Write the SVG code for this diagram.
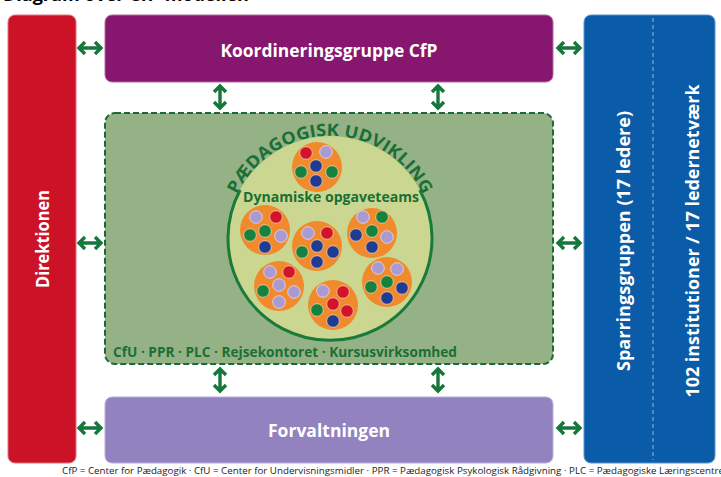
<svg xmlns="http://www.w3.org/2000/svg" xmlns:xlink="http://www.w3.org/1999/xlink" width="721" height="477" viewBox="0 0 721 477">
<style>
  text { font-family: "Open Sans", "Liberation Sans", sans-serif; font-weight: bold; }
  .w { fill: #ffffff; }
  .g { fill: #1a6f35; }
  .arr { fill: none; stroke: #16773a; stroke-width: 3.4; stroke-linecap: butt; }
  .team { fill: #f08a2c; }
  .s { stroke: #f7cfb0; stroke-width: 0.8; }
  .r { fill: #d2142b; }
  .l { fill: #a99bd1; stroke: #e6dcf2; stroke-width: 0.8; }
  .n { fill: #1f3c92; }
  .gr { fill: #15823d; }
</style>
<defs>
  <path id="ha" class="arr" d="M-11,0 H11 M-5,-6 L-11,0 L-5,6 M5,-6 L11,0 L5,6"/>
  <path id="va" class="arr" d="M0,-11 V11 M-6,-5 L0,-11 L6,-5 M-6,5 L0,11 L6,5"/>
  <path id="arcText" d="M235.6,197.6 A103,103 0 0 1 424.4,197.6"/>
</defs>
<rect width="721" height="477" fill="#ffffff"/>
<text x="3" y="1" font-size="18" fill="#000000">Diagram over CfP-modellen</text>

<g id="direktionen">
  <rect x="8" y="15" width="68" height="448" rx="7" fill="#cc1226" stroke="#e8707c" stroke-width="1"/>
  <text class="w" font-size="18" text-anchor="middle" textLength="98" lengthAdjust="spacingAndGlyphs" transform="translate(49,239) rotate(-90)">Direktionen</text>
</g>

<g id="koordineringsgruppe">
  <rect x="105" y="15" width="448" height="67" rx="7" fill="#86166e" stroke="#b06aa3" stroke-width="1"/>
  <text class="w" x="329" y="57" font-size="18.5" text-anchor="middle" textLength="217" lengthAdjust="spacingAndGlyphs">Koordineringsgruppe CfP</text>
</g>

<g id="paedagogisk-udvikling">
  <rect x="105" y="113" width="448" height="251" rx="10" fill="#94b285" stroke="#1a6b35" stroke-width="2" stroke-dasharray="6,3"/>
  <circle cx="330" cy="238" r="102" fill="#cbd690"/>
  <path d="M240.2,190 A102,102 0 1 0 419.8,190" fill="none" stroke="#1a7a3a" stroke-width="3"/>
  <text class="g" font-size="17"><textPath xlink:href="#arcText" startOffset="50%" text-anchor="middle" textLength="232" lengthAdjust="spacingAndGlyphs">PÆDAGOGISK UDVIKLING</textPath></text>
  <text class="g" x="331" y="202" font-size="14.5" text-anchor="middle" textLength="176" lengthAdjust="spacingAndGlyphs">Dynamiske opgaveteams</text>
  <text class="g" x="113" y="357" font-size="15" textLength="344" lengthAdjust="spacingAndGlyphs">CfU · PPR · PLC · Rejsekontoret · Kursusvirksomhed</text>
</g>

<g id="team-1">
  <circle class="team" cx="317" cy="167" r="25"/>
  <circle class="r s" cx="306" cy="153" r="6.3"/>
  <circle class="l" cx="326" cy="152" r="6.3"/>
  <circle class="n s" cx="316" cy="166" r="6.3"/>
  <circle class="gr s" cx="301" cy="172" r="6.3"/>
  <circle class="gr s" cx="332" cy="172" r="6.3"/>
  <circle class="n s" cx="316" cy="181" r="6.3"/>
</g>
<g id="team-2">
  <circle class="team" cx="265" cy="230" r="25"/>
  <circle class="l" cx="256" cy="217" r="6.3"/>
  <circle class="r s" cx="276" cy="217" r="6.3"/>
  <circle class="gr s" cx="250" cy="235" r="6.3"/>
  <circle class="gr s" cx="265" cy="231" r="6.3"/>
  <circle class="l" cx="281" cy="236" r="6.3"/>
  <circle class="n s" cx="265" cy="247" r="6.3"/>
</g>
<g id="team-3">
  <circle class="team" cx="317" cy="246" r="25"/>
  <circle class="l" cx="308" cy="233" r="6.3"/>
  <circle class="r s" cx="327" cy="233" r="6.3"/>
  <circle class="n s" cx="317" cy="246" r="6.3"/>
  <circle class="n s" cx="333" cy="252" r="6.3"/>
  <circle class="gr s" cx="302" cy="252" r="6.3"/>
  <circle class="n s" cx="317" cy="262" r="6.3"/>
</g>
<g id="team-4">
  <circle class="team" cx="372" cy="233" r="25"/>
  <circle class="l" cx="363" cy="217" r="6.3"/>
  <circle class="gr s" cx="382" cy="217" r="6.3"/>
  <circle class="n s" cx="356" cy="235" r="6.3"/>
  <circle class="gr s" cx="372" cy="231" r="6.3"/>
  <circle class="l" cx="387" cy="237" r="6.3"/>
  <circle class="n s" cx="372" cy="247" r="6.3"/>
</g>
<g id="team-5">
  <circle class="team" cx="279" cy="286" r="25"/>
  <circle class="l" cx="270" cy="272" r="6.3"/>
  <circle class="r s" cx="289" cy="272" r="6.3"/>
  <circle class="l" cx="279" cy="285" r="6.3"/>
  <circle class="gr s" cx="263" cy="291" r="6.3"/>
  <circle class="l" cx="294" cy="292" r="6.3"/>
  <circle class="l" cx="279" cy="302" r="6.3"/>
</g>
<g id="team-6">
  <circle class="team" cx="333" cy="305" r="25"/>
  <circle class="l" cx="323" cy="291" r="6.3"/>
  <circle class="r s" cx="343" cy="292" r="6.3"/>
  <circle class="r s" cx="333" cy="304" r="6.3"/>
  <circle class="gr s" cx="317" cy="310" r="6.3"/>
  <circle class="r s" cx="347" cy="311" r="6.3"/>
  <circle class="n s" cx="333" cy="321" r="6.3"/>
</g>
<g id="team-7">
  <circle class="team" cx="387" cy="282" r="25"/>
  <circle class="l" cx="378" cy="268" r="6.3"/>
  <circle class="l" cx="397" cy="269" r="6.3"/>
  <circle class="gr s" cx="387" cy="282" r="6.3"/>
  <circle class="gr s" cx="371" cy="287" r="6.3"/>
  <circle class="n s" cx="402" cy="288" r="6.3"/>
  <circle class="n s" cx="387" cy="298" r="6.3"/>
</g>

<g id="forvaltningen">
  <rect x="105" y="397" width="448" height="66" rx="7" fill="#9283c0" stroke="#b9aedb" stroke-width="1"/>
  <text class="w" x="329" y="437" font-size="18.5" text-anchor="middle" textLength="122" lengthAdjust="spacingAndGlyphs">Forvaltningen</text>
</g>

<g id="sparringsgruppen">
  <rect x="584" y="15" width="131" height="448" rx="7" fill="#0b5ca8" stroke="#5b93cc" stroke-width="1"/>
  <line x1="653" y1="18" x2="653" y2="460" stroke="#7fa9d6" stroke-width="1.2" stroke-dasharray="4,3"/>
  <text class="w" font-size="18" text-anchor="middle" textLength="260" lengthAdjust="spacingAndGlyphs" transform="translate(630,241) rotate(-90)">Sparringsgruppen (17 ledere)</text>
  <text class="w" font-size="18" text-anchor="middle" textLength="313" lengthAdjust="spacingAndGlyphs" transform="translate(699,241) rotate(-90)">102 institutioner / 17 ledernetværk</text>
</g>

<g id="connectors">
  <use xlink:href="#ha" x="90" y="48"/>
  <use xlink:href="#ha" x="90" y="243"/>
  <use xlink:href="#ha" x="90" y="428"/>
  <use xlink:href="#ha" x="569" y="48"/>
  <use xlink:href="#ha" x="569" y="243"/>
  <use xlink:href="#ha" x="569" y="428"/>
  <use xlink:href="#va" x="220" y="97"/>
  <use xlink:href="#va" x="438" y="97"/>
  <use xlink:href="#va" x="220" y="380"/>
  <use xlink:href="#va" x="438" y="380"/>
</g>

<text x="62" y="474" font-size="8.2" fill="#222222" textLength="662" lengthAdjust="spacingAndGlyphs" style="font-weight:normal">CfP = Center for Pædagogik · CfU = Center for Undervisningsmidler · PPR = Pædagogisk Psykologisk Rådgivning · PLC = Pædagogiske Læringscentre</text>
</svg>
